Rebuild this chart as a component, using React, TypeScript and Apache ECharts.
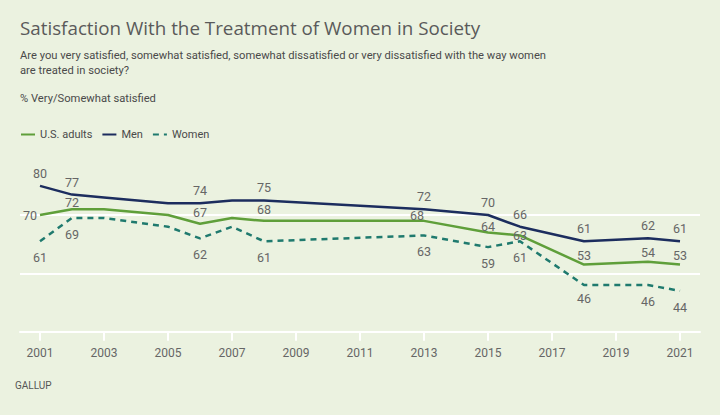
import React, { useEffect, useRef } from "react";
import * as echarts from "echarts";

const years = [2001, 2002, 2003, 2005, 2006, 2007, 2008, 2013, 2015, 2016, 2018, 2020, 2021];
const adults = [70, 72, 72, 70, 67, 69, 68, 68, 64, 63, 53, 54, 53];
const men = [80, 77, 76, 74, 74, 75, 75, 72, 70, 66, 61, 62, 61];
const women = [61, 69, 69, 66, 62, 66, 61, 63, 59, 61, 46, 46, 44];
const labeledYears = [2001, 2002, 2006, 2008, 2013, 2015, 2016, 2018, 2020, 2021];
const tickYears = [2001, 2003, 2005, 2007, 2009, 2011, 2013, 2015, 2017, 2019, 2021];
const seriesNames = ["U.S. adults", "Men", "Women"];

const TITLE = "Satisfaction With the Treatment of Women in Society";
const SUBTITLE_LINES = [
  "Are you very satisfied, somewhat satisfied, somewhat dissatisfied or very dissatisfied with the way women",
  "are treated in society?",
];
const MEASURE = "% Very/Somewhat satisfied";
const SOURCE = "GALLUP";

const FONT = "Roboto, 'Noto Sans', sans-serif";
const FONT_WIDE = "'Open Sans', 'Noto Sans', sans-serif";
const BG = "#ebf2e0";
const LABEL_COLOR = "#666666";

// label placement tweaks (layout only)
const adultsLabelPos: Record<number, any> = {
  2001: { position: "left", distance: 3 },
  2002: { offset: [0, 5] },
  2013: { offset: [-7, 6] },
  2015: { offset: [0, 5] },
  2016: { position: "inside" },
  2018: { offset: [0, 2] },
  2020: { offset: [0, 2] },
  2021: { offset: [0, 2] },
};
const womenLabelPos: Record<number, any> = {
  2018: { offset: [0, -3] },
};

function buildData(values: number[], tweaks: Record<number, any>) {
  return years.map((y, i) => {
    const show = labeledYears.includes(y);
    return {
      value: [y, values[i]],
      label: show ? { show: true, ...(tweaks[y] || {}) } : { show: false },
    };
  });
}

export default function App() {
  const ref = useRef<HTMLDivElement>(null);
  useEffect(() => {
    document.body.style.margin = "0";
    if (!ref.current) return;
    const chart = echarts.init(ref.current, undefined, { renderer: "svg" });
    const labelBase = {
      show: true,
      color: LABEL_COLOR,
      fontSize: 12.5,
      fontFamily: FONT,
      formatter: (p: any) => String(p.value[1]),
    };
    const seriesCommon = {
      type: "line",
      symbol: "circle",
      symbolSize: 0,
      showSymbol: true,
      emphasis: { disabled: true },
    };
    const smallText = { fontSize: 11.2, fontWeight: "normal", color: "#4a4a4a", fontFamily: FONT, lineHeight: 15 };
    chart.setOption({
      animation: false,
      backgroundColor: BG,
      title: [
        {
          text: TITLE,
          left: 20,
          top: 17,
          padding: 0,
          textStyle: { fontSize: 18.8, fontWeight: "normal", color: "#5a5a5a", fontFamily: FONT_WIDE, lineHeight: 22 },
        },
        { text: SUBTITLE_LINES[0], left: 20, top: 48, padding: 0, textStyle: smallText },
        { text: SUBTITLE_LINES[1], left: 20, top: 63, padding: 0, textStyle: smallText },
        { text: MEASURE, left: 20, top: 91, padding: 0, textStyle: smallText },
        {
          text: SOURCE,
          left: 15,
          top: 378,
          padding: 0,
          textStyle: { fontSize: 10, fontWeight: "normal", color: "#555555", fontFamily: FONT, lineHeight: 15 },
        },
      ],
      legend: {
        left: 20,
        top: 129,
        padding: 0,
        itemWidth: 14,
        itemHeight: 12,
        itemGap: 9,
        data: seriesNames,
        itemStyle: { opacity: 0 },
        textStyle: { fontSize: 11, color: "#4a4a4a", fontFamily: FONT },
      },
      grid: { left: 20, right: 20, top: 156.7, bottom: 83.3 },
      xAxis: {
        type: "value",
        min: 2000.375,
        max: 2021.625,
        axisLine: { show: true, onZero: false, lineStyle: { color: "#ffffff", width: 2 } },
        axisTick: { show: true, customValues: tickYears, length: 9, lineStyle: { color: "#ffffff", width: 2 } },
        axisLabel: {
          show: true,
          customValues: tickYears,
          color: LABEL_COLOR,
          fontSize: 12,
          fontFamily: FONT,
          margin: 15,
          formatter: (v: number) => String(v),
        },
        splitLine: { show: false },
      },
      yAxis: {
        type: "value",
        min: 30,
        max: 90,
        interval: 20,
        axisLine: { show: false },
        axisTick: { show: false },
        axisLabel: { show: false },
        splitLine: { show: true, showMaxLine: false, lineStyle: { color: "#ffffff", width: 2 } },
      },
      series: [
        {
          ...seriesCommon,
          name: seriesNames[0],
          data: buildData(adults, adultsLabelPos),
          lineStyle: { color: "#5f9f3a", width: 2.5 },
          itemStyle: { color: "#5f9f3a" },
          label: { ...labelBase, position: "top", distance: 5 },
          z: 3,
        },
        {
          ...seriesCommon,
          name: seriesNames[1],
          data: buildData(men, {}),
          lineStyle: { color: "#1c2d5e", width: 2.5 },
          itemStyle: { color: "#1c2d5e" },
          label: { ...labelBase, position: "top", distance: 6 },
          z: 4,
        },
        {
          ...seriesCommon,
          name: seriesNames[2],
          data: buildData(women, womenLabelPos),
          lineStyle: { color: "#1f7a6e", width: 2.5, type: [6, 5] },
          itemStyle: { color: "#1f7a6e" },
          label: { ...labelBase, position: "bottom", distance: 10 },
          z: 2,
        },
      ],
    });
    return () => chart.dispose();
  }, []);
  return <div ref={ref} style={{ width: 720, height: 415 }} />;
}
